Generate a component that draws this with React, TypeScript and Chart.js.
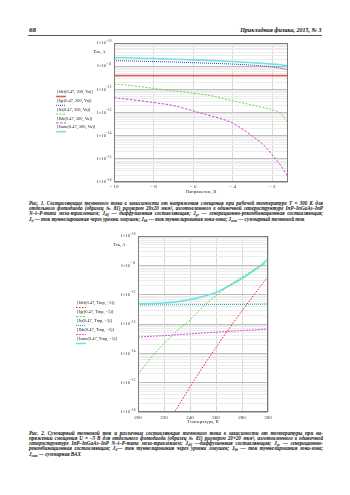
import React, { useEffect, useRef } from 'react';
import { Chart, registerables } from 'chart.js';

Chart.register(...registerables);

const SERIF = '"Liberation Serif", "Times New Roman", serif';

// ---------- Fig. 1: current vs bias voltage (T = 300 K) ----------
const F1_VOLTAGE = [-10, -9, -8, -7, -6, -5, -4, -3, -2.5, -2, -1.6, -1.2];
const F1_JDIF = [3.9e-12, 3.9e-12, 3.9e-12, 3.9e-12, 3.9e-12, 3.9e-12, 3.9e-12, 3.9e-12, 3.9e-12, 3.9e-12, 3.9e-12, 3.9e-12];
const F1_JGR = [1.74e-11, 1.66e-11, 1.58e-11, 1.51e-11, 1.41e-11, 1.32e-11, 1.23e-11, 1.1e-11, 1.02e-11, 9.3e-12, 8.3e-12, 6.9e-12];
const F1_JTT = [1.7e-12, 1.41e-12, 1.1e-12, 8.7e-13, 6.8e-13, 5.1e-13, 3.2e-13, 2.1e-13, 1.66e-13, 1.32e-13, 9.5e-14, 3.7e-14];
const F1_JBB = [4.37e-13, 3.47e-13, 2.69e-13, 2.0e-13, 1.17e-13, 6.8e-14, 3.5e-14, 9.5e-15, 4.5e-15, 1.51e-15, 5.6e-16, 1.66e-16];
const F1_JSUM = [2.34e-11, 2.24e-11, 2.14e-11, 2.0e-11, 1.86e-11, 1.74e-11, 1.58e-11, 1.41e-11, 1.32e-11, 1.23e-11, 1.15e-11, 1.05e-11];
const F1_X_TICKS = [-10, -8, -6, -4, -2];
const F1_LABELS = ['Jdif(0.47, 300, Va)', 'Jgr(0.47, 300, Va)', 'Jtt(0.47, 300, Va)', 'Jbb(0.47, 300, Va)', 'Jsum(0.47, 300, Va)'];

// ---------- Fig. 2: current vs temperature (U = -5 V) ----------
const F2_TEMP = [200, 210, 220, 230, 240, 250, 260, 270, 280, 290, 300];
const F2_JDIF = [6.3e-19, 4.0e-18, 2.4e-17, 1.35e-16, 7.1e-16, 3.5e-15, 1.58e-14, 6.9e-14, 2.8e-13, 1.1e-12, 4.1e-12];
const F2_JGR = [1.9e-15, 7.1e-15, 2.14e-14, 5.9e-14, 1.38e-13, 3.9e-13, 9.3e-13, 2.04e-12, 4.0e-12, 7.4e-12, 1.29e-11];
const F2_JTT = [4.45e-13, 4.48e-13, 4.5e-13, 4.52e-13, 4.55e-13, 4.58e-13, 4.6e-13, 4.63e-13, 4.66e-13, 4.7e-13, 4.75e-13];
const F2_JBB = [3.55e-14, 3.8e-14, 4.0e-14, 4.3e-14, 4.6e-14, 4.9e-14, 5.25e-14, 5.6e-14, 6.0e-14, 6.3e-14, 6.8e-14];
const F2_JSUM = [4.9e-13, 5.0e-13, 5.2e-13, 5.75e-13, 6.8e-13, 8.7e-13, 1.2e-12, 2.0e-12, 3.5e-12, 7.1e-12, 1.62e-11];
const F2_X_TICKS = [200, 220, 240, 260, 280, 300];
const F2_LABELS = ['Jdif(0.47, Tmp, −5)', 'Jgr(0.47, Tmp, −5)', 'Jtt(0.47, Tmp, −5)', 'Jbb(0.47, Tmp, −5)', 'Jsum(0.47, Tmp, −5)'];

// ---------- shared log axis ----------
const Y_DECADES = [1e-16, 1e-15, 1e-14, 1e-13, 1e-12, 1e-11, 1e-10];
const Y_EXPONENTS = ['−16', '−15', '−14', '−13', '−12', '−11', '−10'];
const MINOR_STEPS = [1, 2, 3, 4, 5, 6, 7, 8, 9];

const Y_GRID_VALUES: number[] = [];
Y_DECADES.forEach((d, i) => {
  if (i < Y_DECADES.length - 1) MINOR_STEPS.forEach((k) => Y_GRID_VALUES.push(k * d));
  else Y_GRID_VALUES.push(d);
});

function isDecade(v: number | undefined) {
  if (!v) return false;
  return Y_DECADES.some((d) => Math.abs(v / d - 1) < 1e-6);
}

const decorPlugin = {
  id: 'decor',
  afterDraw(chart: any, _args: any, o: any) {
    const { ctx, chartArea: a } = chart;
    const ys = chart.scales.y;
    ctx.save();
    ctx.setLineDash([]);
    ctx.strokeStyle = '#7c7c7c';
    ctx.lineWidth = 1;
    ctx.strokeRect(Math.round(a.left) + 0.5, Math.round(a.top) + 0.5, Math.round(a.right - a.left) - 1, Math.round(a.bottom - a.top) - 1);

    // y tick labels 1×10^n
    ctx.fillStyle = '#333';
    ctx.textBaseline = 'middle';
    Y_DECADES.forEach((v, i) => {
      const py = ys.getPixelForValue(v);
      const right = a.left - 2.5;
      ctx.font = `3.4px ${SERIF}`;
      const ew = ctx.measureText(Y_EXPONENTS[i]).width;
      ctx.textAlign = 'left';
      ctx.fillText(Y_EXPONENTS[i], right - ew, py - 2.2);
      ctx.font = `4.5px ${SERIF}`;
      ctx.textAlign = 'right';
      ctx.fillText('1×10', right - ew - 0.3, py);
    });

    // y title
    ctx.font = `4.6px ${SERIF}`;
    ctx.textAlign = 'left';
    ctx.fillText('Ток, А', o.yTitle.x, o.yTitle.y);

    // legend
    chart.data.datasets.forEach((ds: any, i: number) => {
      const y = o.legend.y + i * o.legend.step;
      ctx.fillStyle = '#222';
      ctx.font = `4.4px ${SERIF}`;
      ctx.textAlign = 'left';
      ctx.fillText(`[${ds.label}]`, o.legend.x, y);
      ctx.strokeStyle = ds.borderColor;
      ctx.lineWidth = ds.borderWidth;
      ctx.setLineDash(ds.borderDash || []);
      ctx.beginPath();
      ctx.moveTo(o.legend.x - 1, y + 4.5);
      ctx.lineTo(o.legend.x + 9, y + 4.5);
      ctx.stroke();
    });
    ctx.restore();
  },
};

type Series = { label: string; data: number[]; color: string; dash: number[]; width: number };

function makeConfig(p: {
  xs: number[];
  series: Series[];
  xMin: number;
  xMax: number;
  xTicks: number[];
  xLabel: (v: number) => string;
  xTitle: string;
  padding: { left: number; right: number; top: number; bottom: number };
  xAxisHeight: number;
  titlePad: number;
  tickPad: number;
  legend: { x: number; y: number; step: number };
  yTitle: { x: number; y: number };
}) {
  return {
    type: 'line',
    data: {
      datasets: p.series.map((s) => ({
        label: s.label,
        data: p.xs.map((x, i) => ({ x, y: s.data[i] })),
        borderColor: s.color,
        borderDash: s.dash,
        borderWidth: s.width,
        pointRadius: 0,
        fill: false,
        cubicInterpolationMode: 'monotone',
      })),
    },
    options: {
      animation: false,
      responsive: false,
      events: [],
      layout: { padding: p.padding },
      plugins: {
        legend: { display: false },
        tooltip: { enabled: false },
        decor: { legend: p.legend, yTitle: p.yTitle },
      },
      scales: {
        x: {
          type: 'linear',
          min: p.xMin,
          max: p.xMax,
          afterBuildTicks: (s: any) => {
            s.ticks = p.xTicks.map((v) => ({ value: v }));
          },
          afterFit: (s: any) => {
            s.height = p.xAxisHeight;
          },
          ticks: {
            autoSkip: false,
            maxRotation: 0,
            padding: p.tickPad,
            color: '#333',
            font: { size: 5, family: SERIF },
            callback: (v: any) => p.xLabel(Number(v)),
          },
          grid: { color: '#d8d8d8', drawTicks: false, lineWidth: 1 },
          border: { display: false },
          title: {
            display: true,
            text: p.xTitle,
            color: '#333',
            font: { size: 4.8, family: SERIF },
            padding: { top: 0, bottom: p.titlePad },
          },
        },
        y: {
          type: 'logarithmic',
          min: 1e-16,
          max: 1e-10,
          afterBuildTicks: (s: any) => {
            s.ticks = Y_GRID_VALUES.map((v) => ({ value: v }));
          },
          afterFit: (s: any) => {
            s.width = 24;
          },
          ticks: { autoSkip: false, callback: () => '', font: { size: 4 } },
          grid: {
            drawTicks: false,
            lineWidth: 1,
            color: (c: any) => (isDecade(c.tick && c.tick.value) ? '#bdbdbd' : '#ececec'),
          },
          border: { display: false },
        },
      },
    },
    plugins: [decorPlugin],
  };
}

const fig1Config = makeConfig({
  xs: F1_VOLTAGE,
  series: [
    { label: F1_LABELS[0], data: F1_JDIF, color: '#e25c5c', dash: [], width: 1.6 },
    { label: F1_LABELS[1], data: F1_JGR, color: '#3838b0', dash: [1, 1], width: 1 },
    { label: F1_LABELS[2], data: F1_JTT, color: '#6cd84c', dash: [2, 1.5], width: 1 },
    { label: F1_LABELS[3], data: F1_JBB, color: '#d444d4', dash: [2.5, 1.5], width: 1 },
    { label: F1_LABELS[4], data: F1_JSUM, color: '#72e2e2', dash: [], width: 1.6 },
  ],
  xMin: -10,
  xMax: -1.2,
  xTicks: F1_X_TICKS,
  xLabel: (v) => (v < 0 ? `− ${Math.abs(v)}` : `${v}`),
  xTitle: 'Напряжение, В',
  padding: { left: 90, right: 62, top: 7, bottom: 0 },
  xAxisHeight: 14,
  titlePad: 1,
  tickPad: 2,
  legend: { x: 57, y: 56, step: 8.8 },
  yTitle: { x: 93, y: 16 },
});

const fig2Config = makeConfig({
  xs: F2_TEMP,
  series: [
    { label: F2_LABELS[0], data: F2_JDIF, color: '#e02828', dash: [1.5, 1.5], width: 1 },
    { label: F2_LABELS[1], data: F2_JGR, color: '#5cd83c', dash: [2, 1.5], width: 1 },
    { label: F2_LABELS[2], data: F2_JTT, color: '#1f9aa6', dash: [1, 1], width: 1 },
    { label: F2_LABELS[3], data: F2_JBB, color: '#e048e0', dash: [2, 1], width: 1 },
    { label: F2_LABELS[4], data: F2_JSUM, color: '#62e2f0', dash: [], width: 1.5 },
  ],
  xMin: 200,
  xMax: 300,
  xTicks: F2_X_TICKS,
  xLabel: (v) => `${v}`,
  xTitle: 'Температура, К',
  padding: { left: 114, right: 82, top: 8, bottom: 0 },
  xAxisHeight: 16,
  titlePad: 3,
  tickPad: 3,
  legend: { x: 77, y: 75, step: 9 },
  yTitle: { x: 113, y: 17 },
});

function ChartCanvas({ config, left, top, width, height }: any) {
  const ref = useRef<HTMLCanvasElement>(null);
  useEffect(() => {
    const chart = new Chart(ref.current as HTMLCanvasElement, config as any);
    return () => chart.destroy();
  }, [config]);
  return (
    <canvas
      ref={ref}
      width={width}
      height={height}
      style={{ position: 'absolute', left, top, width, height }}
    />
  );
}

const S = (t: string) => (
  <sub style={{ fontSize: '68%', verticalAlign: '-0.3em', lineHeight: 0 }}>{t}</sub>
);

const capBase: React.CSSProperties = {
  position: 'absolute',
  left: 29,
  width: 294,
  fontFamily: SERIF,
  fontSize: 5.1,
  lineHeight: '5.4px',
  height: 5.4,
  fontStyle: 'italic',
  fontWeight: 'bold',
  whiteSpace: 'nowrap',
  color: '#111',
};
const just = (top: number): React.CSSProperties => ({ ...capBase, top, textAlign: 'justify', textAlignLast: 'justify' } as any);
const plain = (top: number): React.CSSProperties => ({ ...capBase, top, textAlign: 'left' });

export default function App() {
  return (
    <div style={{ position: 'absolute', left: 0, top: 0, width: 350, height: 495, background: '#fff', overflow: 'hidden' }}>
      <div style={{ position: 'absolute', left: 29, top: 25.5, fontFamily: SERIF, fontSize: 7, fontWeight: 'bold', fontStyle: 'italic', lineHeight: '8px', color: '#111' }}>68</div>
      <div style={{ position: 'absolute', left: 150, width: 171.5, top: 26.5, textAlign: 'right', fontFamily: SERIF, fontSize: 6, fontWeight: 'bold', fontStyle: 'italic', lineHeight: '7px', color: '#111' }}>
        Прикладная физика, 2015, № 3
      </div>
      <div style={{ position: 'absolute', left: 28, top: 35, width: 294, height: 0, borderTop: '0.8px solid #555' }} />

      <ChartCanvas config={fig1Config} left={0} top={36} width={350} height={160} />

      <div style={just(200.6)}>Рис. 1. Составляющие темнового тока в зависимости от напряжения смещения при рабочей температуре T = 300 K для</div>
      <div style={just(206)}>отдельного фотодиода (образец № 81) размером 20x20 мкм², изготовленного в одиночной гетероструктуре InP–InGaAs–InP</div>
      <div style={just(211.3)}>N–i–P-типа меза-травлением; J{S('dif')} — диффузионная составляющая; J{S('gr')} — генерационно-рекомбинационная составляющая;</div>
      <div style={plain(216.6)}>J{S('tt')} — ток туннелирования через уровни ловушек; J{S('bb')} — ток туннелирования зона-зона; J{S('sum')} — суммарный темновой ток</div>

      <ChartCanvas config={fig2Config} left={0} top={228} width={350} height={200} />

      <div style={just(430.6)}>Рис. 2. Суммарный темновой ток и различные составляющие темнового тока в зависимости от температуры при на-</div>
      <div style={just(436)}>пряжении смещения U = –5 В для отдельного фотодиода (образец № 81) размером 20×20 мкм², изготовленного в одиночной</div>
      <div style={just(441)}>гетероструктуре InP–InGaAs–InP N–i–P-типа меза-травлением; J{S('dif')} —диффузионная составляющая; J{S('gr')} — генерационно-</div>
      <div style={just(446.3)}>рекомбинационная составляющая; J{S('tt')}— ток туннелирования через уровни ловушек; J{S('bb')} — ток туннелирования зона-зона;</div>
      <div style={plain(451.6)}>J{S('sum')} — суммарная ВАХ</div>
    </div>
  );
}
